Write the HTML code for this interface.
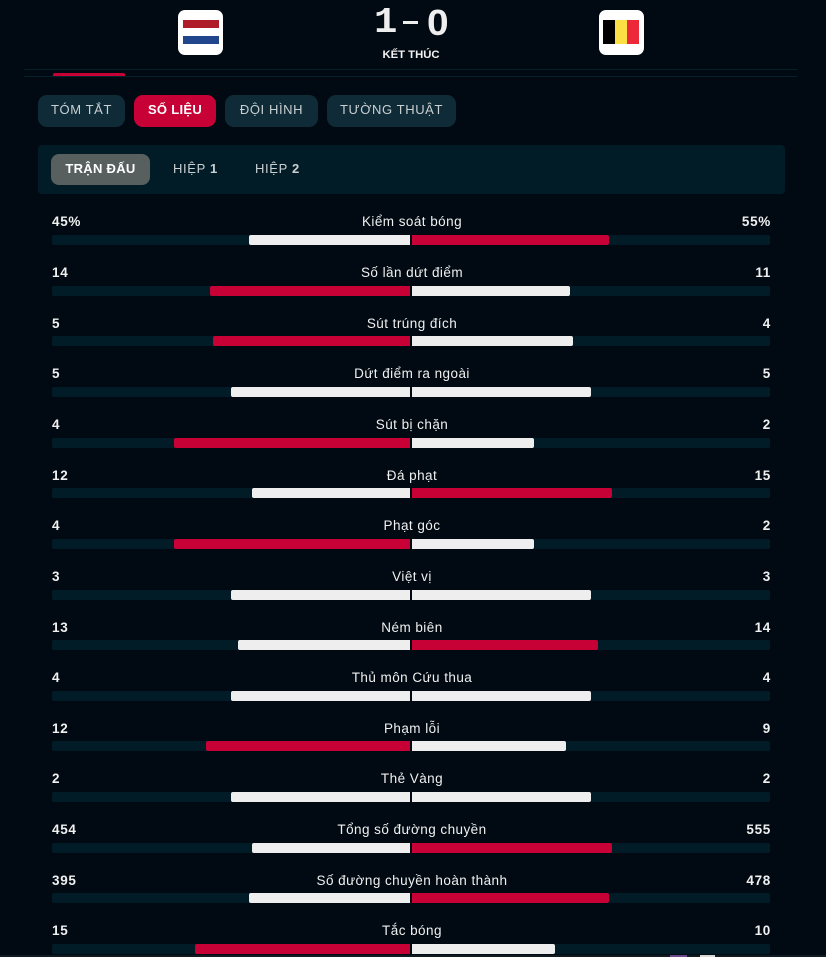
<!DOCTYPE html>
<html lang="vi">
<head>
<meta charset="utf-8">
<title>Số liệu trận đấu</title>
<style>
html,body{margin:0;padding:0;background:#010a12;}
body{width:826px;height:957px;position:relative;overflow:hidden;font-family:"Liberation Sans","Noto Sans CJK SC",sans-serif;color:#eee;}
.abs{position:absolute;}
.tile{position:absolute;top:10px;width:45px;height:45px;background:#fff;border-radius:7px;}
.flag{position:absolute;top:10px;left:4px;width:36px;height:24px;display:flex;}
.pill{position:absolute;top:95px;height:32px;line-height:29px;border-radius:9px;background:#0f2b37;color:#c9d0d2;font-size:13px;letter-spacing:.6px;text-align:center;white-space:nowrap;}
.pill.on{background:#c70036;color:#fff;font-weight:700;letter-spacing:.3px;}
.sub{position:absolute;top:154px;height:31px;line-height:29px;font-size:13px;letter-spacing:.65px;color:#c9d0d2;white-space:nowrap;}
.stat-text{position:absolute;font-size:13.5px;line-height:16px;font-weight:400;color:#f0f0f0;white-space:nowrap;letter-spacing:.45px;}
.val{font-weight:700;letter-spacing:.7px;}
.track{position:absolute;height:10px;background:#021c27;}
.fill{position:absolute;height:10px;}
.digit{position:absolute;top:4px;font-weight:700;font-size:36px;line-height:38px;color:#eee;transform-origin:left center;transform:scaleX(1.08);}
</style>
</head>
<body>
<div class="tile" style="left:178px">
  <div class="flag" style="left:5px;flex-direction:column">
    <div style="flex:1;background:#ae1c28"></div><div style="flex:1;background:#fff"></div><div style="flex:1;background:#21468b"></div>
  </div>
</div>
<div class="tile" style="left:599px">
  <div class="flag">
    <div style="flex:1;background:#000"></div><div style="flex:1;background:#fae042"></div><div style="flex:1;background:#ed2939"></div>
  </div>
</div>
<div class="digit" style="left:374px;font-family:'Liberation Mono',monospace">1</div>
<div class="abs" style="left:403px;top:21px;width:15px;height:3px;background:#eee"></div>
<div class="digit" style="left:427px">0</div>
<div class="abs" style="left:340px;width:142px;top:48px;text-align:center;font-size:11.3px;line-height:14px;font-weight:700;color:#f2f2f2">KẾT THÚC</div>

<div class="abs" style="left:24px;width:773px;top:69px;height:1px;background:#04202b"></div>
<div class="abs" style="left:24px;width:773px;top:76px;height:1px;background:#04202b"></div>
<div class="abs" style="left:53px;width:72px;top:73px;height:3px;background:#c70036;border-radius:2px 2px 0 0"></div>

<div class="pill" style="left:38px;width:87px">TÓM TẮT</div>
<div class="pill on" style="left:134px;width:82px">SỐ LIỆU</div>
<div class="pill" style="left:225px;width:93px">ĐỘI HÌNH</div>
<div class="pill" style="left:327px;width:129px">TƯỜNG THUẬT</div>

<div class="abs" style="left:38px;width:747px;top:145px;height:49px;background:#021c27;border-radius:4px"></div>
<div class="sub" style="left:51px;width:99px;background:#58605f;border-radius:8px;text-align:center;color:#fff;font-weight:700;letter-spacing:.3px">TRẬN ĐẤU</div>
<div class="sub" style="left:173px">HIỆP <b>1</b></div>
<div class="sub" style="left:255px">HIỆP <b>2</b></div>

<div id="stats"></div>

<div class="abs" style="left:0;width:826px;top:955px;height:2px;background:#101c22"></div>
<div class="abs" style="left:670px;width:17px;top:955px;height:2px;background:#6a4a8a"></div>
<div class="abs" style="left:700px;width:15px;top:955px;height:2px;background:#d8d8d8"></div>

<script>
const categories = ["Kiểm soát bóng","Số lần dứt điểm","Sút trúng đích","Dứt điểm ra ngoài","Sút bị chặn","Đá phạt","Phạt góc","Việt vị","Ném biên","Thủ môn Cứu thua","Phạm lỗi","Thẻ Vàng","Tổng số đường chuyền","Số đường chuyền hoàn thành","Tắc bóng"];
const homeValues = [45,14,5,5,4,12,4,3,13,4,12,2,454,395,15];
const awayValues = [55,11,4,5,2,15,2,3,14,4,9,2,555,478,10];
const valueSuffix = ["%","","","","","","","","","","","","","",""];

const root = document.getElementById('stats');
const barTop = 234.95, textCenterTop = 221.3, rowStep = 50.65, halfWidth = 358, leftEdge = 52, centerLeft = 410, centerRight = 412;
const homePercent = (a, total) => total > 0 ? Math.floor((a / total) * 100) : 0;
const widthScale = pct => (pct / 100) * halfWidth;
const barRowY = i => Math.round(barTop + i * rowStep);
const textRowY = i => Math.round(textCenterTop + i * rowStep) - 7;
const RED = '#c70036', WHITE = '#eeeeee';

categories.forEach((name, i) => {
  const a = homeValues[i], b = awayValues[i], total = a + b;
  const barY = barRowY(i);
  const textY = textRowY(i);

  const left = document.createElement('div');
  left.className = 'stat-text val';
  
  
  left.style.left = leftEdge + 'px';
  left.style.top = textY + 'px';
  left.textContent = a + valueSuffix[i];
  root.appendChild(left);

  const title = document.createElement('div');
  title.className = 'stat-text';
  
  
  title.style.left = '212px';
  title.style.width = '400px';
  title.style.textAlign = 'center';
  title.style.top = textY + 'px';
  title.textContent = name;
  root.appendChild(title);

  const right = document.createElement('div');
  right.className = 'stat-text val';
  
  
  right.style.right = (826 - 771) + 'px';
  right.style.top = textY + 'px';
  right.textContent = b + valueSuffix[i];
  root.appendChild(right);

  const trackL = document.createElement('div');
  trackL.className = 'track';
  
  
  trackL.style.cssText = 'left:' + leftEdge + 'px;width:' + halfWidth + 'px;top:' + barY + 'px;border-radius:2px 0 0 2px';
  root.appendChild(trackL);

  const trackR = document.createElement('div');
  trackR.className = 'track';
  
  
  trackR.style.cssText = 'left:' + centerRight + 'px;width:' + halfWidth + 'px;top:' + barY + 'px;border-radius:0 2px 2px 0';
  root.appendChild(trackR);

  const pa = homePercent(a, total);
  const wa = widthScale(pa), wb = widthScale(total > 0 ? 100 - pa : 0);

  const barL = document.createElement('div');
  barL.className = 'fill';
  
  
  barL.style.cssText = 'left:' + (centerLeft - wa) + 'px;width:' + wa + 'px;top:' + barY + 'px;border-radius:2px 0 0 2px;background:' + (a > b ? RED : WHITE);
  root.appendChild(barL);

  const barR = document.createElement('div');
  barR.className = 'fill';
  
  
  barR.style.cssText = 'left:' + centerRight + 'px;width:' + wb + 'px;top:' + barY + 'px;border-radius:0 2px 2px 0;background:' + (b > a ? RED : WHITE);
  root.appendChild(barR);
});
</script>
</body>
</html>
